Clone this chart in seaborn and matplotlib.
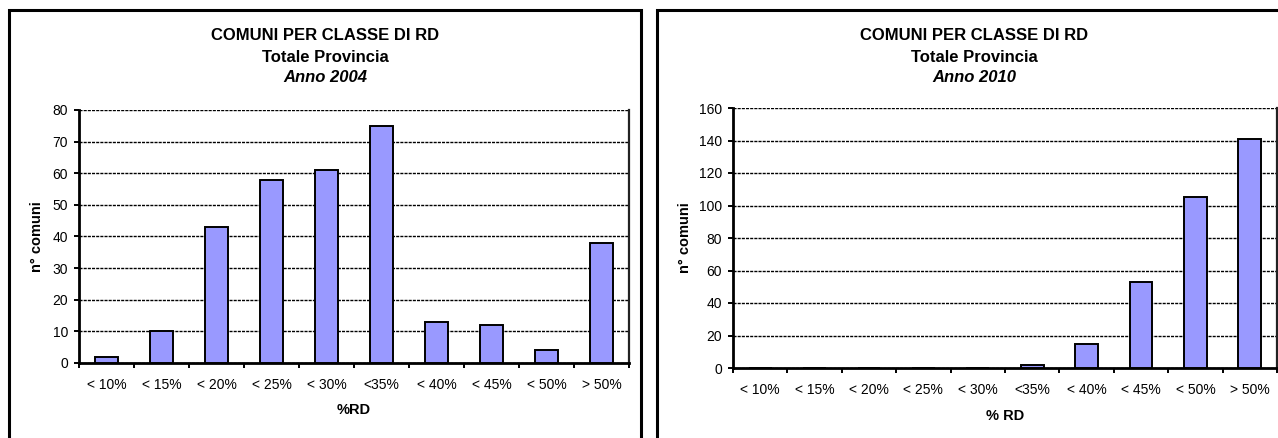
import numpy as np
import pandas as pd
import matplotlib
matplotlib.use("Agg")
import matplotlib.pyplot as plt
from matplotlib.patches import Rectangle
import seaborn as sns

# Classes of separate-collection rate (% RD)
classes = ["< 10%", "< 15%", "< 20%", "< 25%", "< 30%", "<35%",
           "< 40%", "< 45%", "< 50%", "> 50%"]
# Number of municipalities per class
comuni_2004 = [2, 10, 43, 58, 61, 75, 13, 12, 4, 38]
comuni_2010 = [0, 0, 0, 0, 0, 2, 15, 53, 105, 141]

yticks_2004 = list(range(0, 81, 10))
yticks_2010 = list(range(0, 161, 20))

sns.set_theme(style="white")
plt.rcParams["font.family"] = ["Liberation Sans", "DejaVu Sans"]
plt.rcParams["text.color"] = "black"
plt.rcParams["axes.labelcolor"] = "black"
plt.rcParams["xtick.color"] = "black"
plt.rcParams["ytick.color"] = "black"

W, H = 1278, 438
fig = plt.figure(figsize=(W / 100, H / 100), dpi=100)
fig.patch.set_facecolor("white")

BAR = "#9999FF"


def px_axes(x0, y_top, x1, y_bot):
    return fig.add_axes([x0 / W, 1 - y_bot / H, (x1 - x0) / W, (y_bot - y_top) / H])


def draw_panel(ax, values, yticks, xlabel, year, frame_x0, frame_x1, title_cx, axes_h):
    df = pd.DataFrame({"classe": classes, "n": values})
    sns.barplot(data=df, x="classe", y="n", color=BAR, edgecolor="black",
                linewidth=1.4, width=0.42, saturation=1, ax=ax, zorder=3)
    ax.set_ylim(yticks[0], yticks[-1])
    ax.set_xlim(-0.5, len(classes) - 0.5)
    ax.set_yticks(yticks)
    ax.set_yticklabels([str(t) for t in yticks], fontsize=10)
    ax.set_xticks(range(len(classes)))
    ax.set_xticklabels(classes, fontsize=10)
    ax.set_xticks(np.arange(-0.5, len(classes), 1), minor=True)
    ax.tick_params(axis="x", which="major", length=0, pad=10.5, colors="black")
    ax.tick_params(axis="x", which="minor", length=3.5, width=1.4, direction="out",
                   color="black", bottom=True)
    ax.tick_params(axis="y", which="major", length=3.5, width=1.4, direction="out",
                   pad=4.5, color="black", left=True, labelcolor="black")
    ax.set_axisbelow(True)
    ax.yaxis.grid(True, linestyle=(0, (2.2, 0.8)), color="black", linewidth=1.0)
    ax.xaxis.grid(False)
    for side in ("left", "bottom"):
        ax.spines[side].set_visible(True)
        ax.spines[side].set_color("black")
        ax.spines[side].set_linewidth(2.0)
    ax.spines["right"].set_visible(True)
    ax.spines["right"].set_color("#222222")
    ax.spines["right"].set_linewidth(1.6)
    ax.spines["top"].set_visible(False)

    ax.set_xlabel(xlabel, fontsize=10.5, fontweight="bold", color="black")
    ax.xaxis.set_label_coords(0.5, -40.5 / axes_h)
    ax.set_ylabel("n° comuni", fontsize=10.5, fontweight="bold", color="black")
    ax.yaxis.label.set_va("center")

    # chart area border
    fig.add_artist(Rectangle((frame_x0 / W, -0.2), (frame_x1 - frame_x0) / W,
                             1.2 - 10 / H, transform=fig.transFigure,
                             fill=False, edgecolor="black", linewidth=2.2))
    fig.text(title_cx / W, 1 - 35 / H, "COMUNI PER CLASSE DI RD", ha="center",
             va="center", fontsize=12, fontweight="bold")
    fig.text(title_cx / W, 1 - 57 / H, "Totale Provincia", ha="center",
             va="center", fontsize=12, fontweight="bold")
    fig.text(title_cx / W, 1 - 78 / H, f"Anno {year}", ha="center",
             va="center", fontsize=12, fontweight="bold", style="italic")


ax1 = px_axes(79, 110, 629, 363)
draw_panel(ax1, comuni_2004, yticks_2004, "%RD", 2004, 9, 641, 325, 253)
ax1.yaxis.set_label_coords((37 - 79) / 550, 0.5)

ax2 = px_axes(733, 108, 1277, 368)
draw_panel(ax2, comuni_2010, yticks_2010, "% RD", 2010, 657, 1292, 974, 260)
ax2.yaxis.set_label_coords((685 - 733) / 544, 0.5)

fig.savefig("out.png", dpi=100, facecolor="white")
